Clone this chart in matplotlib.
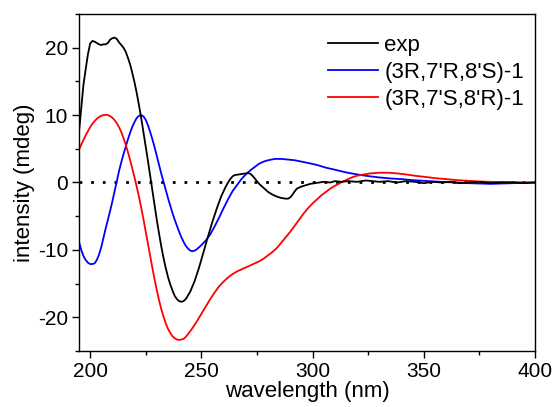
import numpy as np
import matplotlib
matplotlib.use("Agg")
import matplotlib.pyplot as plt
from matplotlib.ticker import MultipleLocator

plt.rcParams['font.family'] = ['Liberation Sans', 'DejaVu Sans']
plt.rcParams['axes.unicode_minus'] = False

# experimental ECD
exp_wl = [195, 196, 197, 198, 199, 200, 201, 202, 203, 204, 205, 206, 207, 208, 209,
          210, 211, 212, 213, 214, 215, 216, 217, 218, 219, 220, 221, 222, 223, 224,
          225, 226, 227, 228, 229, 230, 231, 232, 233, 234, 235, 236, 237, 238, 239,
          240, 241, 242, 243, 245, 247, 249, 251, 253, 255, 257, 259, 261, 262, 263,
          264, 265, 267, 269, 271, 272, 273, 274, 275, 276, 278, 280, 282, 284, 286,
          288, 289, 290, 291, 292, 293, 295, 297, 299, 301, 303, 305, 308, 310, 313,
          316, 320, 324, 327, 330, 334, 338, 342, 346, 350, 354, 358, 362, 366, 370,
          375, 380, 385, 390, 395, 400]
exp_cd = [7.5, 11.0, 14.5, 16.8, 19.0, 20.6, 21.0, 20.9, 20.7, 20.5, 20.4, 20.5, 20.5, 20.7, 21.2,
          21.4, 21.5, 21.3, 20.8, 20.4, 20.0, 19.4, 18.5, 17.5, 16.2, 14.8, 13.2, 11.4, 9.5, 7.4,
          5.3, 3.2, 1.0, -1.2, -3.4, -5.6, -7.6, -9.5, -11.2, -12.7, -14.0, -15.1, -16.0, -16.8, -17.3,
          -17.6, -17.7, -17.6, -17.3, -16.2, -14.6, -12.6, -10.3, -8.0, -5.8, -3.8, -2.0, -0.6, 0.0, 0.5,
          0.9, 1.1, 1.2, 1.3, 1.4, 1.3, 1.0, 0.6, 0.2, -0.2, -0.8, -1.4, -1.8, -2.1, -2.3,
          -2.4, -2.4, -2.2, -1.8, -1.3, -0.9, -0.6, -0.4, -0.2, -0.1, 0.0, 0.1, 0.0, 0.2, 0.1,
          0.2, 0.1, 0.3, 0.2, 0.1, 0.2, 0.0, 0.2, 0.1, -0.1, 0.1, 0.0, 0.1, -0.1, 0.0,
          0.1, -0.1, 0.0, 0.0, -0.1, 0.0]

# calculated (3R,7'R,8'S)-1
rrs_wl = [195, 196, 197, 198, 199, 200, 201, 202, 203, 204, 205, 206, 207, 208, 209,
          210, 211, 212, 213, 214, 215, 216, 217, 218, 219, 220, 221, 222, 223, 224,
          225, 226, 227, 228, 229, 230, 231, 232, 233, 234, 235, 236, 237, 238, 239,
          240, 241, 242, 243, 244, 245, 246, 247, 248, 249, 250, 252, 254, 256, 258,
          260, 262, 264, 266, 268, 270, 272, 274, 276, 278, 280, 283, 286, 289, 292,
          295, 298, 302, 306, 310, 315, 320, 325, 330, 335, 340, 345, 350, 355, 360,
          365, 370, 375, 380, 385, 390, 395, 400]
rrs_cd = [-8.8, -10.0, -10.9, -11.5, -11.9, -12.1, -12.1, -12.0, -11.5, -10.7, -9.6, -8.2, -6.8, -5.5, -4.2,
          -2.8, -1.3, 0.2, 1.7, 3.0, 4.2, 5.3, 6.4, 7.4, 8.3, 9.0, 9.6, 9.9, 10.0, 9.8,
          9.3, 8.5, 7.5, 6.4, 5.2, 3.9, 2.6, 1.3, 0.1, -1.1, -2.3, -3.4, -4.5, -5.5, -6.4,
          -7.3, -8.1, -8.8, -9.4, -9.8, -10.1, -10.2, -10.1, -9.9, -9.6, -9.3, -8.6, -7.7, -6.5, -5.2,
          -3.8, -2.5, -1.3, -0.4, 0.5, 1.2, 1.8, 2.3, 2.8, 3.1, 3.3, 3.5, 3.5, 3.4, 3.3,
          3.1, 2.9, 2.6, 2.2, 1.9, 1.5, 1.2, 0.95, 0.75, 0.6, 0.5, 0.35, 0.25, 0.15, 0.05,
          0.0, -0.1, -0.15, -0.2, -0.15, -0.1, -0.05, 0.0]

# calculated (3R,7'S,8'R)-1
rsr_wl = [195, 196, 197, 198, 199, 200, 201, 202, 203, 204, 205, 206, 207, 208, 209,
          210, 211, 212, 213, 214, 215, 216, 217, 218, 219, 220, 221, 222, 223, 224,
          225, 226, 227, 228, 229, 230, 231, 232, 233, 234, 235, 236, 237, 238, 239,
          240, 241, 242, 243, 244, 246, 248, 250, 252, 254, 256, 258, 260, 262, 264,
          266, 268, 270, 272, 274, 276, 278, 280, 282, 284, 286, 288, 290, 292, 294,
          296, 298, 300, 302, 304, 306, 308, 310, 312, 314, 316, 318, 320, 323, 326,
          330, 334, 338, 342, 346, 350, 355, 360, 365, 370, 375, 380, 390, 400]
rsr_cd = [4.9, 5.6, 6.3, 7.0, 7.6, 8.2, 8.7, 9.1, 9.45, 9.7, 9.9, 10.0, 10.05, 10.0, 9.85,
          9.6, 9.25, 8.8, 8.2, 7.5, 6.6, 5.6, 4.5, 3.3, 2.0, 0.7, -0.7, -2.2, -3.8, -5.5,
          -7.3, -9.1, -10.9, -12.7, -14.4, -16.0, -17.5, -18.8, -19.9, -20.9, -21.7, -22.3, -22.8, -23.1, -23.3,
          -23.35, -23.3, -23.2, -22.9, -22.5, -21.6, -20.6, -19.5, -18.4, -17.3, -16.3, -15.4, -14.7, -14.1, -13.6,
          -13.2, -12.9, -12.6, -12.3, -12.0, -11.7, -11.3, -10.8, -10.3, -9.7, -8.9, -8.1, -7.3, -6.4, -5.5,
          -4.6, -3.8, -3.1, -2.5, -1.9, -1.4, -0.9, -0.5, -0.15, 0.2, 0.5, 0.8, 1.0, 1.2, 1.35,
          1.45, 1.45, 1.35, 1.2, 1.0, 0.85, 0.65, 0.5, 0.35, 0.25, 0.15, 0.1, 0.05, 0.0]

labels = ["exp", "(3R,7'R,8'S)-1", "(3R,7'S,8'R)-1"]


def main():
    fig = plt.figure(figsize=(5.54, 4.07), dpi=100)
    ax = fig.add_axes([0.1426, 0.1376, 0.8231, 0.828])

    ax.axhline(0, color='black', lw=2.0, dashes=(1.0, 3.2), zorder=1)
    ax.plot(exp_wl, exp_cd, color='black', lw=1.3, label=labels[0], zorder=3)
    ax.plot(rrs_wl, rrs_cd, color='#0000ff', lw=1.3, label=labels[1], zorder=2)
    ax.plot(rsr_wl, rsr_cd, color='#ff0000', lw=1.3, label=labels[2], zorder=2)

    ax.set_xlim(195, 400)
    ax.set_ylim(-25, 25)
    ax.xaxis.set_major_locator(MultipleLocator(50))
    ax.xaxis.set_minor_locator(MultipleLocator(25))
    ax.yaxis.set_major_locator(MultipleLocator(10))
    ax.yaxis.set_minor_locator(MultipleLocator(5))
    ax.tick_params(which='major', direction='out', length=5, width=1, labelsize=15, pad=3)
    ax.tick_params(which='minor', direction='out', length=3, width=1)
    for s in ax.spines.values():
        s.set_linewidth(1)

    ax.set_xlabel("wavelength (nm)", fontsize=16, labelpad=0)
    ax.set_ylabel("intensity (mdeg)", fontsize=16, labelpad=2)

    ax.legend(loc='upper right', frameon=False, fontsize=16, handlelength=2.25,
              handletextpad=0.3, labelspacing=0.28, borderaxespad=0.3,
              bbox_to_anchor=(1.01, 0.985))

    fig.savefig("out.png", dpi=100)


if __name__ == "__main__":
    main()
